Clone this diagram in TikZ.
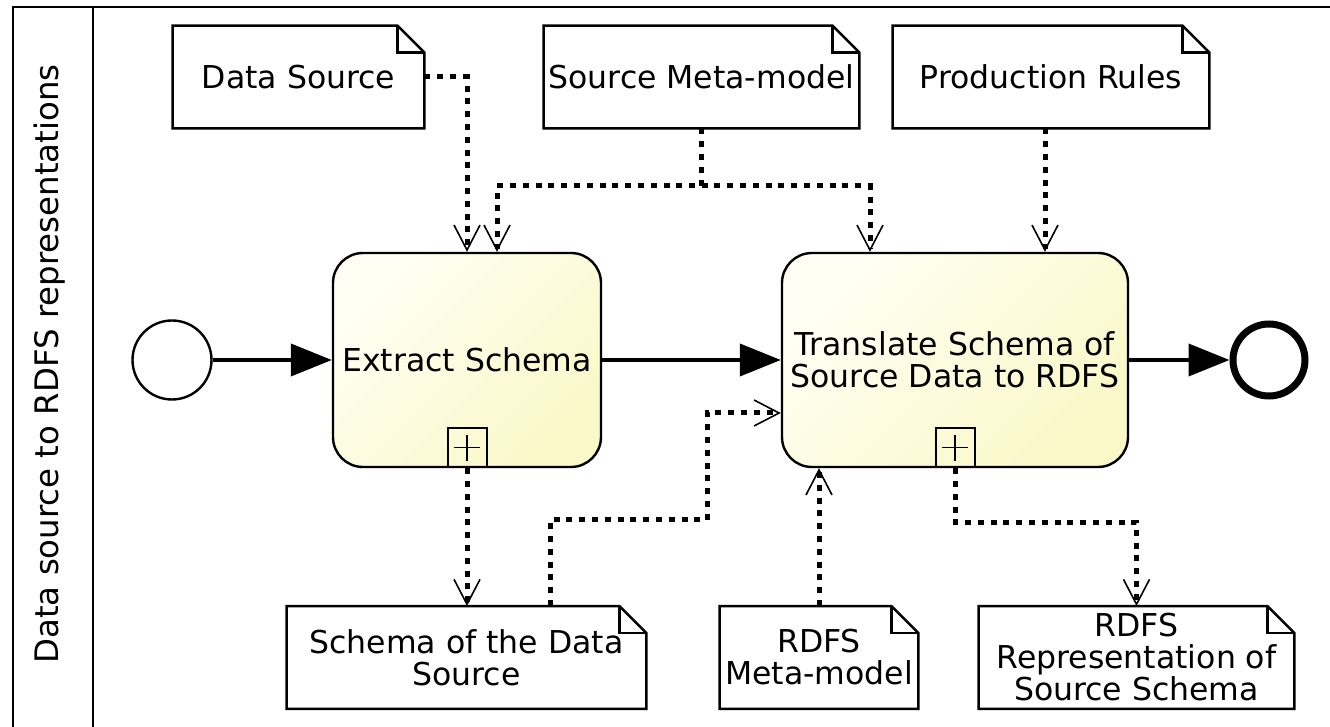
\documentclass[tikz,border=0pt]{standalone}
\usepackage{fontspec}
\setmainfont{DejaVu Sans}
\usetikzlibrary{arrows.meta,calc}
\definecolor{taskL}{RGB}{255,255,244}
\definecolor{taskR}{RGB}{250,248,200}
\begin{document}
\begin{tikzpicture}[x=0.5pt,y=-0.5pt,
  txt/.style={font=\fontsize{15.75}{16}\selectfont},
  docbox/.style={txt, inner sep=0pt, align=center, minimum height=51pt},
  docline/.style={line width=1.2pt, line join=miter},
  task/.style={txt, draw, line width=1.2pt, rounded corners=15pt,
    left color=taskL, right color=taskR, shading angle=45, align=center,
    minimum height=107pt, inner sep=0pt},
  plusbox/.style={draw, line width=1pt, minimum size=19.5pt, inner sep=0pt, anchor=south},
  seqflow/.style={line width=2pt, -{Triangle[length=20.5pt,width=16pt]}},
  assoc/.style={line width=2.5pt, dash pattern=on 3pt off 3.4pt,
    -{Straight Barb[length=12.5pt,width=13pt,line width=0.8pt]}},
  lane/.style={line width=1.3pt}]
\useasboundingbox (0,0) rectangle (1330,727);

% pool frame and lane header
\draw[lane] (13,727) -- (13,7) -- (1330,7);
\draw[lane] (93,7) -- (93,727);
\node[font=\fontsize{16.2}{18}\selectfont, rotate=90] (lanelabel) at (50,364) {Data source to RDFS representations};

% data objects
\node[docbox, minimum width=125.5pt] (ds)   at (298.5,77)   {Data Source};
\node[docbox, minimum width=157.5pt] (smm)  at (701.5,77)   {Source Meta-model};
\node[docbox, minimum width=158pt]   (pr)   at (1051,77)    {Production Rules};
\node[docbox, minimum width=179.5pt] (sch)  at (466.5,657.5) {Schema of the Data\\Source};
\node[docbox, minimum width=99pt]    (rmm)  at (819,657.5)  {RDFS\\Meta-model};
\node[docbox, minimum width=157.5pt] (rrep) at (1136.5,657.5) {RDFS\\Representation of\\Source Schema};
\foreach \n in {ds,smm,pr,sch,rmm,rrep}{
  \draw[docline] (\n.south west) -- (\n.north west) -- ([xshift=-13.5pt]\n.north east)
    -- ([yshift=-13.5pt]\n.north east) -- (\n.south east) -- cycle;
  \draw[docline] ([xshift=-13.5pt]\n.north east) |- ([yshift=-13.5pt]\n.north east);
}

% events
\node[circle, draw, line width=1.2pt, minimum size=39.5pt, inner sep=0pt] (start) at (172,360) {};
\node[circle, draw, line width=3.5pt, minimum size=36pt, inner sep=0pt] (end) at (1269,360) {};

% sub-process tasks
\node[task, minimum width=134pt] (ex) at (467,360) {Extract Schema};
\node[task, minimum width=173pt] (tr) at (955,360) {Translate Schema of\\Source Data to RDFS};
\node[plusbox] (explus) at (ex.south) {};
\node[plusbox] (trplus) at (tr.south) {};
\foreach \p in {explus,trplus}{
  \draw[line width=0.8pt] ([xshift=-6.5pt]\p.center) -- ([xshift=6.5pt]\p.center)
    ([yshift=-6.5pt]\p.center) -- ([yshift=6.5pt]\p.center);
}

% sequence flows
\draw[seqflow] (start) -- (ex);
\draw[seqflow] (ex) -- (tr);
\draw[seqflow] (tr) -- (end);

% data associations
\coordinate (smmjoin) at (701.5,186);
\coordinate (schbend) at (707,520);
\draw[assoc] (ds.east) -| (ex.north);
\draw[assoc] (smm.south) -- (smmjoin) -| ([xshift=15pt]ex.north);
\draw[assoc] (smmjoin) -| ([xshift=-42.5pt]tr.north);
\draw[assoc] ([xshift=-3pt]pr.south) -- ([xshift=-3pt]pr.south |- tr.north);
\draw[assoc] (explus.south) -- (explus.south |- sch.north);
\draw[assoc] ([xshift=41.75pt]sch.north) |- (schbend) |- ([yshift=-26.5pt]tr.west);
\draw[assoc] (rmm.north) -- (rmm.north |- tr.south);
\draw[assoc] (trplus.south) -- ++(0,-27pt) -| (rrep.north);
\end{tikzpicture}
\end{document}
